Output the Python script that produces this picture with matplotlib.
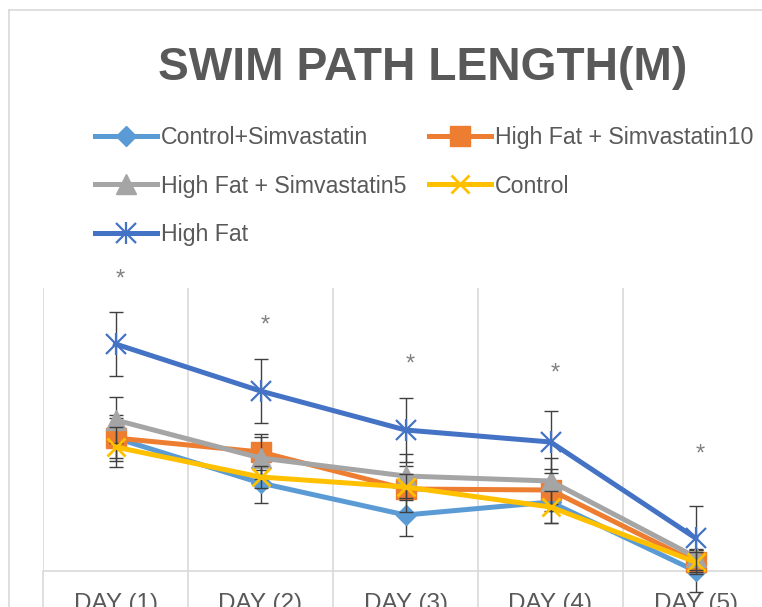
import matplotlib
matplotlib.use("Agg")
import matplotlib.pyplot as plt
from matplotlib.lines import Line2D

plt.rcParams['font.family'] = ['Liberation Sans', 'DejaVu Sans']

# data
days = ["DAY (1)", "DAY (2)", "DAY (3)", "DAY (4)", "DAY (5)"]
ctrl_simva = [13.3, 8.8, 5.6, 6.9, 0.0]
hf_simva10 = [13.3, 11.9, 8.2, 8.1, 0.9]
hf_simva5 = [15.1, 11.3, 9.5, 9.0, 1.4]
control = [12.4, 9.4, 8.4, 6.4, 0.9]
high_fat = [22.7, 18.0, 14.1, 12.9, 3.3]

err_ctrl_simva = [2.3, 2.0, 2.1, 2.1, 2.1]
err_hf_simva10 = [2.0, 1.8, 2.3, 2.1, 1.2]
err_hf_simva5 = [2.3, 2.1, 2.2, 2.3, 0.8]
err_control = [2.0, 1.1, 1.3, 1.6, 1.0]
err_high_fat = [3.2, 3.2, 3.2, 3.1, 3.2]

star_y = [29.1, 24.5, 20.6, 19.7, 11.6]

series = [
    ("Control+Simvastatin", ctrl_simva, err_ctrl_simva, "#5B9BD5", "D", 10, 1),
    ("High Fat + Simvastatin10", hf_simva10, err_hf_simva10, "#ED7D31", "s", 14, 1),
    ("High Fat + Simvastatin5", hf_simva5, err_hf_simva5, "#A5A5A5", "^", 14, 1),
    ("Control", control, err_control, "#FFC000", "x", 13, 2),
    ("High Fat", high_fat, err_high_fat, "#4472C4", "x", 14, 1.6),
]

W, H = 762, 607
fig = plt.figure(figsize=(W / 100, H / 100), dpi=100)
ax = fig.add_axes([43 / W, 1 - 571 / H, 725 / W, 283 / H])

x = list(range(len(days)))
handles = []
for i, (name, vals, err, col, mk, ms, mew) in enumerate(series):
    ax.errorbar(x, vals, yerr=err, fmt='none', ecolor='#404040', elinewidth=1,
                capsize=4.7, capthick=1, zorder=2 + i * 2, clip_on=False)
    h, = ax.plot(x, vals, color=col, lw=3.6, marker=mk, ms=ms, mec=col, mfc=col,
                 mew=mew, zorder=3 + i * 2, clip_on=False, label=name)
    if name == "High Fat":
        # excel style asterisk marker: x plus vertical bar
        h2, = ax.plot(x, vals, ls='none', marker='|', ms=ms * 1.1, mec=col, mew=mew,
                      zorder=3 + i * 2, clip_on=False)
        h = (h, h2)
    handles.append(h)

for i, y in enumerate(star_y):
    ax.text(i + 0.035, y, "*", ha='center', va='center', fontsize=17,
            color='#808080', clip_on=False)

ax.set_xlim(-0.5, 4.5)
ax.set_ylim(0, 28.3)
ax.set_yticks([])
ax.set_xticks(x)
ax.set_xticklabels(days, fontsize=17.5, color='#595959')
ax.set_xticks([i - 0.5 for i in range(len(days) + 1)], minor=True)
ax.tick_params(axis='x', which='major', length=0, pad=16)
ax.tick_params(axis='x', which='minor', length=30, width=1.2, color='#D9D9D9')
ax.grid(axis='x', which='minor', color='#D9D9D9', lw=1.2)
for s in ['top', 'left', 'right']:
    ax.spines[s].set_visible(False)
ax.spines['bottom'].set_color('#D9D9D9')
ax.spines['bottom'].set_linewidth(1.2)

# chart area border
fig.add_artist(Line2D([9 / W, 9 / W], [0, 1 - 10 / H], color='#D9D9D9', lw=1.2))
fig.add_artist(Line2D([9 / W, 1], [1 - 10 / H, 1 - 10 / H], color='#D9D9D9', lw=1.2))

fig.text(423 / W, 1 - 80 / H, "SWIM PATH LENGTH(M)", ha='center', va='baseline',
         fontsize=33.2, fontweight='bold', color='#595959')

# legend fills column by column, so reorder to get the row layout
order = [0, 2, 4, 1, 3]
fig.legend(handles=[handles[k] for k in order], labels=[series[k][0] for k in order],
           loc='upper left', bbox_to_anchor=(95 / W, 1 - 126 / H),
           ncol=2, frameon=False, fontsize=16.7, handlelength=2.68, handletextpad=0.17,
           columnspacing=0.95, labelspacing=1.1, borderpad=0, borderaxespad=0,
           labelcolor='#595959')

fig.savefig("out.png", dpi=100)
